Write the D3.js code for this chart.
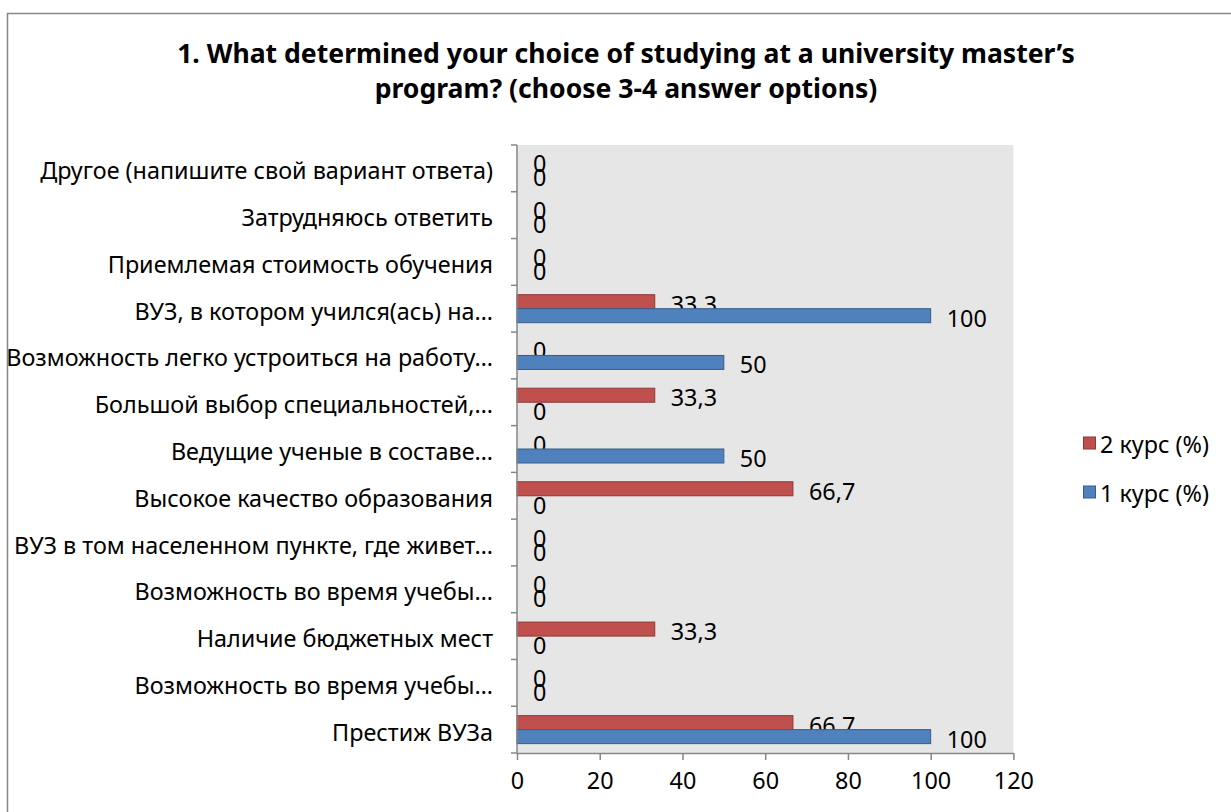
<!DOCTYPE html>
<html>
<head>
<meta charset="utf-8">
<script src="https://cdn.jsdelivr.net/npm/d3@7"></script>
<style>
  body { margin: 0; background: #fff; }
  text { font-family: "Noto Sans", "Open Sans", sans-serif; fill: #000; }
</style>
</head>
<body>
<div id="chart"></div>
<script>

// categories, top to bottom as shown
var categories = [
  "Другое (напишите свой вариант ответа)",
  "Затрудняюсь ответить",
  "Приемлемая стоимость обучения",
  "ВУЗ, в котором учился(ась) на…",
  "Возможность легко устроиться на работу…",
  "Большой выбор специальностей,…",
  "Ведущие ученые в составе…",
  "Высокое качество образования",
  "ВУЗ в том населенном пункте, где живет…",
  "Возможность во время учебы…",
  "Наличие бюджетных мест",
  "Возможность во время учебы…",
  "Престиж ВУЗа"
]
var course2 = [0, 0, 0, 33.3, 0, 33.3, 0, 66.7, 0, 0, 33.3, 0, 66.7]
var course1 = [0, 0, 0, 100, 50, 0, 50, 0, 0, 0, 0, 0, 100]
var seriesNames = ["2 курс (%)", "1 курс (%)"]
var seriesColors = ["#C0504D", "#4F81BD"]
var seriesStroke = ["#8C3836", "#385D8A"]
var xTicks = [0, 20, 40, 60, 80, 100, 120]
var titleLines = ["1. What determined your choice of studying at a university master’s",
                  "program? (choose 3-4 answer options)"]

var width = 1231
var height = 812
// plot area edges (note: "top" is reserved on window, so use own names)
var plotL = 517, plotR = 1013.4, plotT = 145, plotB = 753

var svg = d3.select("#chart")
  .append("svg")
    .attr("width", width)
    .attr("height", height)

svg.append("rect")
  .attr("x", 0).attr("y", 0).attr("width", width).attr("height", height)
  .attr("fill", "#fff")

// outer chart border
svg.append("rect")
  .attr("x", 7.5).attr("y", 13.5)
  .attr("width", 1400).attr("height", 1000)
  .attr("fill", "none")
  .attr("stroke", "#878787")
  .attr("stroke-width", 1.5)

// fit a text element to a target width by changing font size
function fitText(sel, target) {
  var fs = parseFloat(sel.style("font-size"))
  var w = sel.node().getComputedTextLength()
  var nfs = fs * target / w
  sel.style("font-size", nfs + "px")
  return nfs
}

// title
var t1 = svg.append("text")
  .attr("x", 626).attr("y", 63)
  .attr("text-anchor", "middle")
  .style("font-weight", "bold")
  .style("font-size", "24px")
  .text(titleLines[0])
var titleSize = fitText(t1, 898)
svg.append("text")
  .attr("x", 626).attr("y", 98)
  .attr("text-anchor", "middle")
  .style("font-weight", "bold")
  .style("font-size", titleSize + "px")
  .text(titleLines[1])

var x = d3.scaleLinear()
  .domain([0, 120])
  .range([plotL, plotR])

var y = d3.scaleBand()
  .domain(d3.range(categories.length))
  .range([plotT, plotB])

var inner = d3.scaleBand()
  .domain([0, 1])
  .range([0, y.bandwidth()])
  .paddingOuter(0.67)
  .paddingInner(0)

// plot area
svg.append("rect")
  .attr("x", plotL).attr("y", plotT)
  .attr("width", plotR - plotL).attr("height", plotB - plotT)
  .attr("fill", "#e6e6e6")

// measure label font size from the longest category label
var probe = svg.append("text").style("font-size", "20px").text(categories[0])
var labelSize = fitText(probe, 453)
probe.remove()

var series = [course2, course1]

series.forEach(function(vals, s) {
  svg.append("g")
    .selectAll("rect")
    .data(vals)
    .enter()
    .append("rect")
      .attr("x", x(0))
      .attr("y", function(d, i) { return y(i) + inner(s) })
      .attr("width", function(d) { return x(d) - x(0) })
      .attr("height", inner.bandwidth())
      .attr("fill", seriesColors[s])
      .attr("stroke", function(d) { return d > 0 ? seriesStroke[s] : "none" })
      .attr("stroke-width", 1)

  svg.append("g")
    .selectAll("text")
    .data(vals)
    .enter()
    .append("text")
      .attr("x", function(d) { return x(d) + 16 })
      .attr("y", function(d, i) { return y(i) + inner(s) + inner.bandwidth() / 2 + 2 })
      .attr("dominant-baseline", "central")
      .style("font-size", labelSize + "px")
      .text(function(d) { return String(d).replace(".", ",") })
})

// y axis
var yAxis = svg.append("g")
yAxis.append("line")
  .attr("x1", plotL).attr("x2", plotL)
  .attr("y1", plotT).attr("y2", plotB)
  .attr("stroke", "#868686").attr("stroke-width", 1.5)
yAxis.selectAll("line.tick")
  .data(d3.range(categories.length + 1))
  .enter()
  .append("line")
    .attr("class", "tick")
    .attr("x1", plotL - 6).attr("x2", plotL)
    .attr("y1", function(i) { return plotT + i * y.step() })
    .attr("y2", function(i) { return plotT + i * y.step() })
    .attr("stroke", "#868686").attr("stroke-width", 1.5)
yAxis.selectAll("text")
  .data(categories)
  .enter()
  .append("text")
    .attr("x", 493)
    .attr("y", function(d, i) { return y(i) + y.bandwidth() / 2 + 2 })
    .attr("text-anchor", "end")
    .attr("dominant-baseline", "central")
    .style("font-size", labelSize + "px")
    .text(function(d) { return d })

// x axis
var xAxis = svg.append("g")
  .attr("transform", "translate(0," + plotB + ")")
  .call(d3.axisBottom(x).tickValues(xTicks).tickSize(7).tickSizeOuter(0).tickPadding(12))
xAxis.select(".domain").attr("stroke", "#868686").attr("stroke-width", 1.5)
xAxis.selectAll(".tick line").attr("stroke", "#868686").attr("stroke-width", 1.5)
xAxis.selectAll(".tick text")
  .style("font-size", labelSize + "px")
  .attr("font-family", null)

// legend
var legendY = [443, 492]
seriesNames.forEach(function(name, s) {
  svg.append("rect")
    .attr("x", 1083.5).attr("y", legendY[s] - 6)
    .attr("width", 12).attr("height", 12)
    .attr("fill", seriesColors[s])
    .attr("stroke", seriesStroke[s])
  svg.append("text")
    .attr("x", 1100).attr("y", legendY[s] + 1)
    .attr("dominant-baseline", "central")
    .style("font-size", labelSize + "px")
    .text(name)
})

</script>
</body>
</html>
